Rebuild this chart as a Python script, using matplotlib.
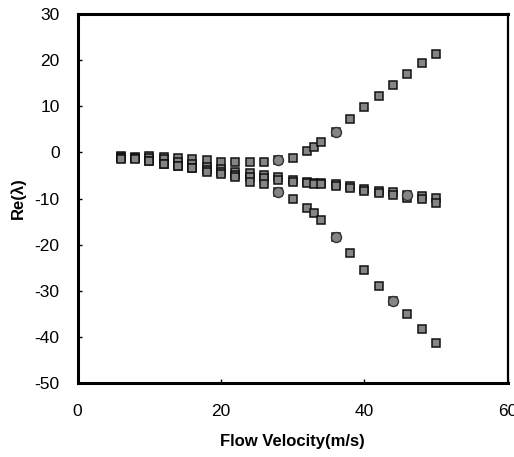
import matplotlib.pyplot as plt

# flow velocities where the eigenvalues were computed
velocity = [6, 8, 10, 12, 14, 16, 18, 20, 22, 24, 26, 28, 30,
            32, 33, 34, 36, 38, 40, 42, 44, 46, 48, 50]

# real parts of the four eigenvalue branches
re_mode1 = [-0.7, -1.0, -0.8, -1.0, -1.2, -1.4, -1.7, -2.0, -2.0, -2.0, -2.0, -1.6, -1.3,
            0.3, 1.1, 2.2, 4.4, 7.3, 9.9, 12.3, 14.7, 17.0, 19.3, 21.3]
re_mode2 = [-1.0, -1.1, -1.2, -1.5, -2.0, -2.4, -3.1, -3.5, -4.3, -4.5, -4.8, -5.3, -6.0,
            -6.4, -6.6, -6.6, -6.9, -7.3, -7.9, -8.3, -8.6, -9.2, -9.5, -9.9]
re_mode3 = [-1.3, -1.3, -1.8, -2.4, -2.9, -3.3, -3.8, -4.2, -4.8, -5.4, -5.6, -5.9, -6.3,
            -6.7, -6.8, -6.9, -7.3, -7.7, -8.4, -8.8, -9.2, -9.9, -10.1, -10.9]
re_mode4 = [-1.4, -1.4, -1.9, -2.4, -2.9, -3.3, -4.3, -4.7, -5.4, -6.4, -6.9, -8.5, -10.2,
            -12.1, -13.2, -14.7, -18.3, -21.9, -25.4, -28.9, -32.2, -35.1, -38.2, -41.3]

# check points from the second solution
check_v = [28, 28, 36, 36, 44, 46]
check_re = [-1.6, -8.5, 4.4, -18.3, -32.2, -9.3]

plt.rcParams['font.family'] = ['Liberation Sans', 'DejaVu Sans']
plt.rcParams['axes.unicode_minus'] = False

fig = plt.figure(figsize=(5.14, 4.57), dpi=100)
ax = fig.add_axes([0.151, 0.162, 0.837, 0.807])

for re in (re_mode1, re_mode2, re_mode3, re_mode4):
    ax.plot(velocity, re, linestyle='none', marker='s', markersize=6.3,
            markerfacecolor='#858585', markeredgecolor='#111111', markeredgewidth=1.1)
ax.plot(check_v, check_re, linestyle='none', marker='o', markersize=7.2,
        markerfacecolor='#858585', markeredgecolor='#333333', markeredgewidth=1.0)

ax.set_xlim(0, 60)
ax.set_ylim(-50, 30)
ax.set_xticks([0, 20, 40, 60])
ax.set_yticks(range(-50, 31, 10))

for side in ('left', 'bottom', 'top'):
    ax.spines[side].set_linewidth(2.2)
ax.spines['right'].set_linewidth(1.6)

ax.tick_params(direction='in', length=3, width=1, labelsize=12.5)
ax.tick_params(axis='x', pad=15)
ax.tick_params(axis='y', pad=13)

ax.set_xlabel('Flow Velocity(m/s)', fontsize=12, fontweight='bold', labelpad=11)
ax.set_ylabel('Re(λ)', fontsize=12, fontweight='bold', labelpad=6)

fig.savefig('out.png', dpi=100)
